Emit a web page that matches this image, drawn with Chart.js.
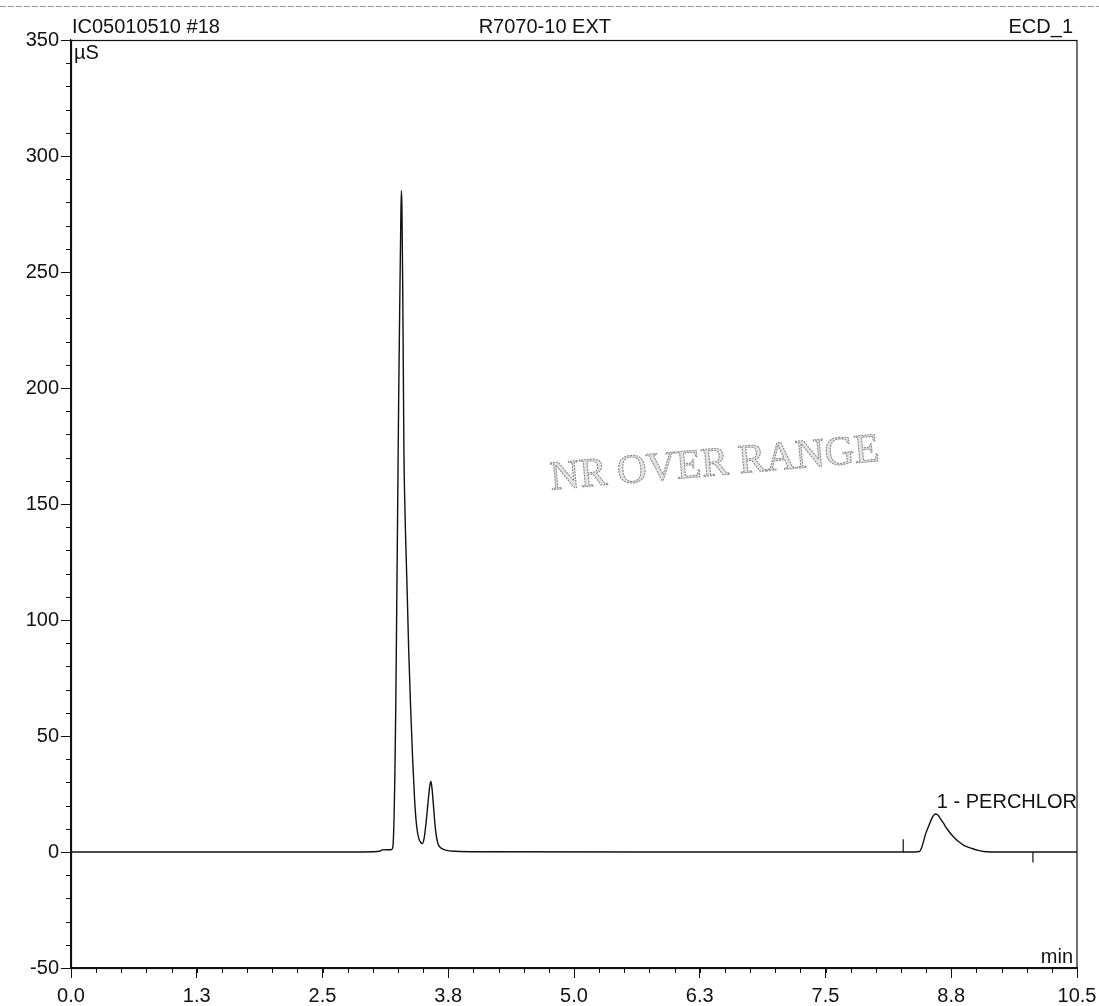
<!DOCTYPE html>
<html>
<head>
<meta charset="utf-8">
<script src="https://cdn.jsdelivr.net/npm/chart.js@4/dist/chart.umd.min.js"></script>
<style>
  html, body { margin: 0; padding: 0; background: #fff; }
  #wrap { width: 1099px; height: 1006px; position: relative; }
</style>
</head>
<body>
<div id="wrap"><canvas id="chrom" width="1099" height="1006"></canvas></div>
<script>
// Chromatogram trace: retention time (min) and conductivity (µS)
const timeMin = [
  0.000, 2.900, 3.150, 3.220, 3.250, 3.300, 3.340, 3.352,
  3.363, 3.372, 3.380, 3.389, 3.399, 3.410, 3.420, 3.431, 3.441, 3.448,
  3.454, 3.462, 3.469, 3.475, 3.483, 3.493, 3.509, 3.524, 3.545, 3.566,
  3.587, 3.608, 3.629, 3.649, 3.667, 3.686, 3.707, 3.728, 3.743, 3.756,
  3.769, 3.785, 3.806, 3.827, 3.858, 3.910, 4.014, 4.275, 6.000,
  8.800, 8.856, 8.875, 8.897, 8.920, 8.949, 8.985, 9.005, 9.027, 9.050,
  9.075, 9.106, 9.150, 9.210, 9.260, 9.315, 9.370, 9.419, 9.470, 9.523,
  9.600, 10.500
];
const signalUS = [
  0.0, 0.0, 0.1, 0.3, 0.9, 1.0, 1.0, 1.3,
  4.0, 15.0, 32.0, 60.0, 102.0, 150.0, 195.0, 235.0, 268.0, 285.0,
  278.0, 245.0, 205.0, 172.0, 152.0, 135.0, 112.0, 88.0, 62.0, 40.0,
  22.0, 11.0, 6.0, 4.2, 3.6, 6.0, 13.0, 22.0, 28.0, 30.5,
  27.0, 19.0, 9.0, 4.0, 1.8, 0.8, 0.3, 0.1, 0.0,
  0.0, 0.2, 1.5, 4.4, 7.8, 10.9, 14.5, 15.9, 16.4, 15.8,
  14.3, 12.4, 9.6, 6.6, 4.6, 3.0, 2.0, 1.3, 0.7, 0.2,
  0.0, 0.0
];

// Axis ticks
const xTickValues = [0, 1.3125, 2.625, 3.9375, 5.25, 6.5625, 7.875, 9.1875, 10.5];
const xTickLabels = ['0.0', '1.3', '2.5', '3.8', '5.0', '6.3', '7.5', '8.8', '10.5'];
const xMinorStep = 0.2625;
const yTickValues = [-50, 0, 50, 100, 150, 200, 250, 300, 350];
const yMinorStep = 10;

// Header texts
const sampleName = 'IC05010510 #18';
const programName = 'R7070-10 EXT';
const channelName = 'ECD_1';
const yUnit = 'µS';
const xUnit = 'min';

// Integrated peak and its delimiters
const peakName = '1 - PERCHLOR';
const peakApexTime = 9.027;
const peakApexValue = 16.4;
const delimiterTimes = [8.686, 10.04];
const delimiterValues = [5.5, -4.5];

// Stamp
const stampText = 'NR OVER RANGE';
const stampTime = 6.72;
const stampValue = 167;

const FONT = '"Liberation Sans", Arial, sans-serif';
const INK = '#111';

const traceData = timeMin.map((t, i) => ({ x: t, y: signalUS[i] }));
const delimiterSets = delimiterTimes.map((t, i) => ({
  data: [{ x: t, y: 0 }, { x: t, y: delimiterValues[i] }],
  borderColor: INK, borderWidth: 1.2, pointRadius: 0, tension: 0
}));

const decorations = {
  id: 'decorations',
  afterDraw(chart) {
    const { ctx, chartArea: a, scales } = chart;
    const xs = scales.x, ys = scales.y;
    ctx.save();

    // faint scan edge at the very top
    ctx.strokeStyle = '#9a9a9a';
    ctx.lineWidth = 1;
    ctx.setLineDash([6, 2]);
    ctx.beginPath(); ctx.moveTo(0, 6.5); ctx.lineTo(chart.width, 6.5); ctx.stroke();
    ctx.setLineDash([]);

    // plot frame
    ctx.strokeStyle = INK;
    ctx.lineWidth = 1.2;
    ctx.strokeRect(a.left + 0.5, a.top + 0.5, a.right - a.left - 0.5, a.bottom - a.top);

    // minor ticks
    ctx.lineWidth = 1;
    ctx.beginPath();
    for (let v = xs.min; v <= xs.max + 1e-9; v += xMinorStep) {
      const px = Math.round(xs.getPixelForValue(v)) + 0.5;
      ctx.moveTo(px, a.bottom); ctx.lineTo(px, a.bottom + 5);
    }
    for (let v = ys.min; v <= ys.max + 1e-9; v += yMinorStep) {
      const py = Math.round(ys.getPixelForValue(v)) + 0.5;
      ctx.moveTo(a.left - 5, py); ctx.lineTo(a.left, py);
    }
    ctx.stroke();

    // header
    ctx.fillStyle = INK;
    ctx.font = '20px ' + FONT;
    ctx.textBaseline = 'alphabetic';
    ctx.textAlign = 'left';
    ctx.fillText(sampleName, a.left + 1, a.top - 7);
    ctx.textAlign = 'center';
    ctx.fillText(programName, a.left + (a.right - a.left) * 0.471, a.top - 7);
    ctx.textAlign = 'right';
    ctx.fillText(channelName, a.right - 4, a.top - 7);

    // axis units inside the frame
    ctx.textAlign = 'left';
    ctx.fillText(yUnit, a.left + 3, a.top + 19);
    ctx.textAlign = 'right';
    ctx.fillText(xUnit, a.right - 4, a.bottom - 5);

    // peak label
    ctx.textAlign = 'left';
    ctx.fillText(peakName, xs.getPixelForValue(peakApexTime) + 1, ys.getPixelForValue(peakApexValue) - 6);

    // stamp
    const sx = xs.getPixelForValue(stampTime), sy = ys.getPixelForValue(stampValue);
    ctx.translate(sx, sy);
    ctx.rotate(-5 * Math.PI / 180);
    ctx.font = '41px "Liberation Serif", "Times New Roman", serif';
    ctx.textAlign = 'center';
    ctx.textBaseline = 'middle';
    ctx.fillStyle = 'rgba(215,215,215,0.7)';
    ctx.fillText(stampText, 0, 0);
    ctx.strokeStyle = '#8c8c8c';
    ctx.lineWidth = 1.1;
    ctx.setLineDash([2, 1]);
    ctx.strokeText(stampText, 0, 0);

    ctx.restore();
  }
};

new Chart(document.getElementById('chrom'), {
  type: 'line',
  data: {
    datasets: [
      {
        data: traceData,
        borderColor: INK,
        borderWidth: 1.4,
        pointRadius: 0,
        cubicInterpolationMode: 'monotone'
      },
      ...delimiterSets
    ]
  },
  options: {
    responsive: false,
    animation: false,
    parsing: false,
    layout: { padding: { top: 40, right: 22, left: 0, bottom: 0 } },
    plugins: { legend: { display: false }, tooltip: { enabled: false }, title: { display: false } },
    scales: {
      x: {
        type: 'linear',
        min: 0, max: 10.5,
        afterFit(s) { s.height = 38; s.paddingLeft = 0; s.paddingRight = 0; },
        afterBuildTicks(s) { s.ticks = xTickValues.map(v => ({ value: v })); },
        ticks: {
          autoSkip: false, maxRotation: 0, padding: 6,
          color: INK, font: { family: FONT, size: 20 },
          callback: (v, i) => xTickLabels[i]
        },
        grid: { drawOnChartArea: false, tickLength: 10, color: INK, tickColor: INK, tickWidth: 1 },
        border: { display: true, color: INK, width: 1.2 }
      },
      y: {
        type: 'linear',
        min: -50, max: 350,
        afterFit(s) { s.width = 71; s.paddingTop = 0; s.paddingBottom = 0; },
        afterBuildTicks(s) { s.ticks = yTickValues.map(v => ({ value: v })); },
        ticks: {
          padding: 2, color: INK, font: { family: FONT, size: 20 },
          callback: v => String(v)
        },
        grid: { drawOnChartArea: false, tickLength: 10, color: INK, tickColor: INK, tickWidth: 1 },
        border: { display: true, color: INK, width: 1.2 }
      }
    }
  },
  plugins: [decorations]
});
</script>
</body>
</html>
